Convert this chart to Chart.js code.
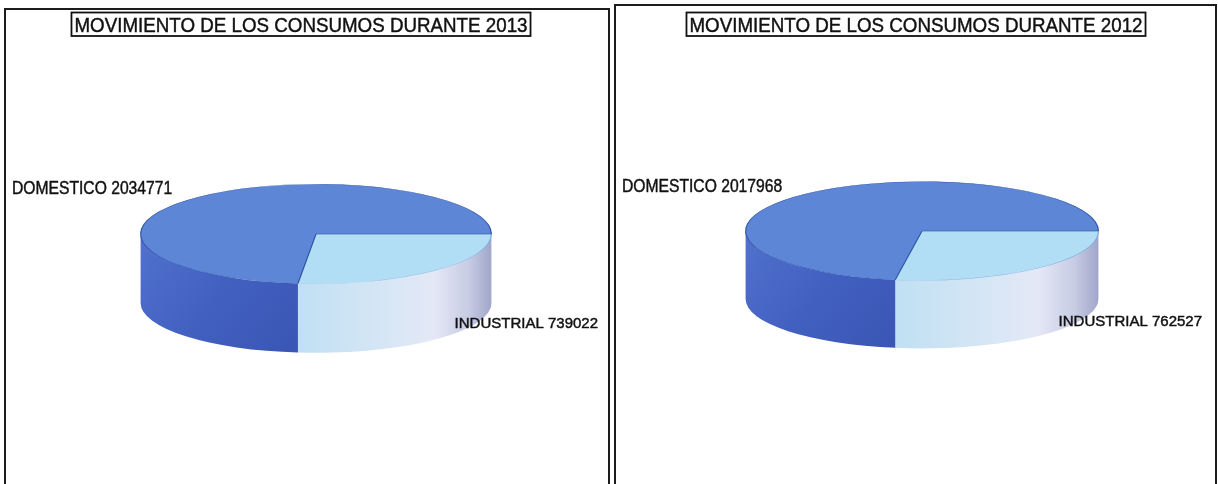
<!DOCTYPE html>
<html>
<head>
<meta charset="utf-8">
<script src="https://cdn.jsdelivr.net/npm/chart.js@4.4.1/dist/chart.umd.min.js"></script>
<style>
  html, body { margin: 0; padding: 0; background: #ffffff; }
  body { width: 1218px; height: 484px; position: relative; overflow: hidden; }
  canvas { position: absolute; top: 0; }
  #c2013 { left: 0; }
  #c2012 { left: 610px; }
</style>
</head>
<body>
<canvas id="c2013" width="610" height="484"></canvas>
<canvas id="c2012" width="608" height="484"></canvas>
<script>
// ---- data ----
const categories = ['INDUSTRIAL', 'DOMESTICO'];
const values2013 = [739022, 2034771];
const values2012 = [762527, 2017968];
const titles = ['MOVIMIENTO DE LOS CONSUMOS DURANTE 2013', 'MOVIMIENTO DE LOS CONSUMOS DURANTE 2012'];

// ---- styles ----
const topColors = ['rgb(178,222,245)', 'rgb(93,134,214)'];
const FONT = '"Liberation Sans", Arial, sans-serif';

function sideGradient(ctx, i, x0, x1, y0, y1) {
  const g = ctx.createLinearGradient(x0, y0, x1, y1);
  if (i === 0) { // industrial (light)
    g.addColorStop(0, 'rgb(192,224,243)');
    g.addColorStop(0.45, 'rgb(214,230,245)');
    g.addColorStop(0.7, 'rgb(228,232,246)');
    g.addColorStop(0.88, 'rgb(200,204,228)');
    g.addColorStop(1, 'rgb(160,166,202)');
  } else { // domestic (dark)
    g.addColorStop(0, 'rgb(82,114,206)');
    g.addColorStop(0.5, 'rgb(66,96,192)');
    g.addColorStop(1, 'rgb(58,86,180)');
  }
  return g;
}

// draws horizontally condensed text; returns drawn width
function condensedText(ctx, text, x, y, size, hs, align) {
  ctx.font = size + 'px ' + FONT;
  const w = ctx.measureText(text).width * hs;
  let x0 = x;
  if (align === 'center') x0 = x - w / 2;
  else if (align === 'right') x0 = x - w;
  ctx.save();
  ctx.translate(x0, y);
  ctx.scale(hs, 1);
  ctx.textAlign = 'left';
  ctx.textBaseline = 'alphabetic';
  ctx.lineWidth = 0.45;
  ctx.strokeStyle = ctx.fillStyle;
  ctx.fillText(text, 0, 0);
  ctx.strokeText(text, 0, 0);
  ctx.restore();
  return { x0: x0, w: w };
}

const pie3d = {
  id: 'pie3d',
  beforeDatasetsDraw(chart, args, opts) {
    const ctx = chart.ctx;
    const meta = chart.getDatasetMeta(0);
    const k = opts.squash, depth = opts.depth;
    const TWO = Math.PI * 2;
    ctx.save();
    meta.data.forEach((arc, i) => {
      const p = arc.getProps(['x', 'y', 'startAngle', 'endAngle', 'outerRadius'], true);
      let s = p.startAngle, e = p.endAngle;
      while (s < 0) { s += TWO; e += TWO; }
      while (s >= TWO) { s -= TWO; e -= TWO; }
      const R = p.outerRadius, ry = R * k;
      for (const off of [0, TWO]) {
        const a = Math.max(s, off), b = Math.min(e, off + Math.PI);
        if (b <= a) continue;
        const xa = p.x + R * Math.cos(a), xb = p.x + R * Math.cos(b);
        ctx.beginPath();
        ctx.ellipse(p.x, p.y, R, ry, 0, a, b, false);
        ctx.lineTo(xb, p.y + ry * Math.sin(b) + depth);
        ctx.ellipse(p.x, p.y + depth, R, ry, 0, b, a, true);
        ctx.closePath();
        const left = Math.min(xa, xb), right = Math.max(xa, xb);
        ctx.fillStyle = i === 0
          ? sideGradient(ctx, i, left, right, 0, 0)
          : sideGradient(ctx, i, left, right, p.y, p.y + depth + ry);
        ctx.fill();
      }
    });
    ctx.restore();
    // squash the top faces drawn by the library
    const a0 = meta.data[0];
    ctx.save();
    ctx.translate(a0.x, a0.y);
    ctx.scale(1, k);
    ctx.translate(-a0.x, -a0.y);
  },
  afterDatasetsDraw(chart) {
    chart.ctx.restore();
  },
  afterDraw(chart, args, opts) {
    const ctx = chart.ctx;
    const ds = chart.data.datasets[0];
    ctx.save();
    // panel border
    ctx.strokeStyle = '#1c1c1c';
    ctx.lineWidth = 2;
    const b = opts.border;
    ctx.beginPath();
    ctx.moveTo(b[0], 500); ctx.lineTo(b[0], b[1]); ctx.lineTo(b[2], b[1]); ctx.lineTo(b[2], 500);
    ctx.stroke();
    // title with box
    ctx.fillStyle = '#111';
    const t = opts.title;
    const r = condensedText(ctx, t.text, t.x, t.y, 20.5, 0.915, 'center');
    ctx.strokeStyle = '#111';
    ctx.lineWidth = 1.8;
    ctx.strokeRect(r.x0 - 3, t.y - 19.5, r.w + 6, 23.5);
    // labels
    condensedText(ctx, chart.data.labels[1] + ' ' + ds.data[1], opts.domLabel[0], opts.domLabel[1], 18, 0.87, 'left');
    condensedText(ctx, chart.data.labels[0] + ' ' + ds.data[0], opts.indLabel[0], opts.indLabel[1], 15, 1.0, 'right');
    ctx.restore();
  }
};

function makeChart(id, values, title, pad, p3) {
  return new Chart(document.getElementById(id), {
    type: 'pie',
    data: {
      labels: categories,
      datasets: [{
        data: values,
        backgroundColor: topColors,
        borderColor: ['rgba(120,170,215,0.9)', 'rgba(40,75,160,0.9)'],
        borderWidth: 1.2,
        clip: false
      }]
    },
    options: {
      responsive: false,
      animation: false,
      events: [],
      rotation: 90,
      layout: { padding: pad },
      plugins: {
        legend: { display: false },
        tooltip: { enabled: false },
        title: { display: false },
        pie3d: Object.assign({ title: title }, p3)
      }
    },
    plugins: [pie3d]
  });
}

makeChart('c2013', values2013, { text: titles[0], x: 301, y: 32 },
  { left: 140, right: 118, top: 58, bottom: 74 },
  { squash: 0.284, depth: 69, border: [5, 9, 609], domLabel: [12, 194], indLabel: [598, 328] });

makeChart('c2012', values2012, { text: titles[1], x: 306, y: 32 },
  { left: 134, right: 118, top: 54, bottom: 76 },
  { squash: 0.28, depth: 68, border: [5, 5, 606], domLabel: [12, 192], indLabel: [592, 326] });
</script>
</body>
</html>
